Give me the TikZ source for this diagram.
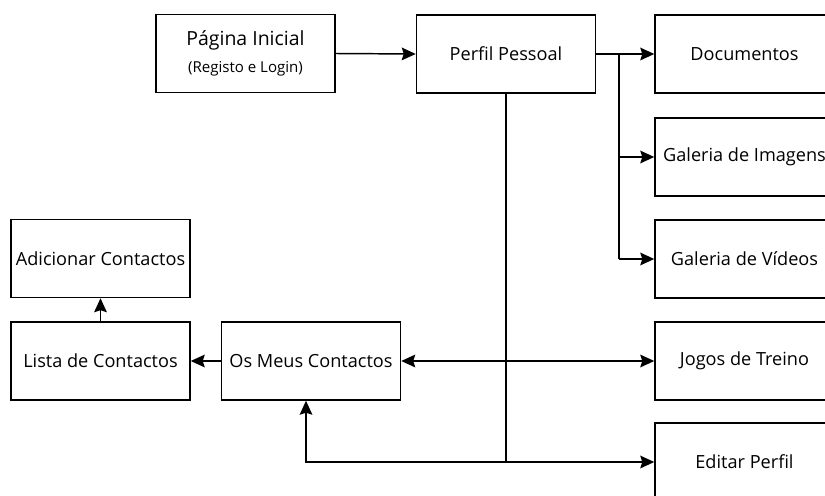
\documentclass[tikz,border=0pt]{standalone}
\usepackage{fontspec}
\setmainfont{Open Sans}
\usetikzlibrary{arrows.meta}
\tikzset{
  tip/.tip={Stealth[length=10.5pt,width=9.5pt,inset=1.5pt]},
  box/.style={draw=black, line width=1.1pt, fill=white, minimum width=134.25pt,
    minimum height=58.5pt, inner sep=0pt, align=center, font=\fontsize{13.6}{16}\selectfont},
  link/.style={line width=1.1pt, -tip},
  link2/.style={line width=1.1pt, tip-tip},
  wire/.style={line width=1.1pt}
}
\begin{document}
\begin{tikzpicture}[x=0.75pt, y=-0.75pt]
  \clip (0,0) rectangle (825,496);
  \fill[white] (0,0) rectangle (825,496);

  % top row
  \node[box] (inicio) at (245.5,53.5) {{\fontsize{14.6}{17}\selectfont Página Inicial}\\[4pt]{\fontsize{11.3}{13}\selectfont (Registo e Login)}};
  \node[box] (perfil) at (506,54) {Perfil Pessoal};

  % right column
  \node[box] (docs)   at (744.5,54)  {Documentos};
  \node[box] (imgs)   at (744.5,157) {Galeria de Imagens};
  \node[box] (videos) at (744.5,259) {Galeria de Vídeos};
  \node[box] (jogos)  at (744.5,361) {Jogos de Treino};
  \node[box] (editar) at (744.5,462) {Editar Perfil};

  % contacts
  \node[box] (adic)   at (100.5,258.5) {Adicionar Contactos};
  \node[box] (lista)  at (100.5,361)   {Lista de Contactos};
  \node[box] (meus)   at (311,361)     {Os Meus Contactos};

  % junction points
  \coordinate (ramo)  at (619,54);
  \coordinate (baixo) at (506,462);
  \coordinate (volta) at (306,462);

  % connectors
  \draw[link] (inicio.east) -- (perfil.west);
  \draw[link] (perfil.east) -- (docs.west);
  \draw[wire] (ramo) -- (ramo |- videos.west);
  \draw[link] (ramo |- imgs.west) -- (imgs.west);
  \draw[link] (ramo |- videos.west) -- (videos.west);

  \draw[wire] (perfil.south) -- (baixo);
  \draw[link] (baixo) -- (editar.west);
  \draw[link] (baixo) -- (volta) -- (volta |- meus.south);

  \draw[link2] (meus.east) -- (jogos.west);
  \draw[link] (meus.west) -- (lista.east);
  \draw[link] (lista.north) -- (adic.south);
\end{tikzpicture}
\end{document}
